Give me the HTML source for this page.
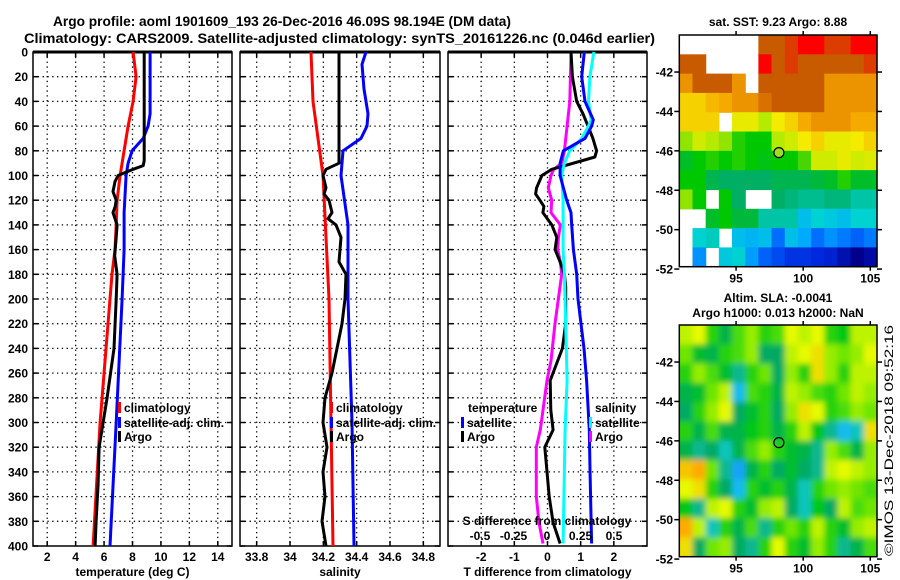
<!DOCTYPE html>
<html><head><meta charset="utf-8"><style>
html,body{margin:0;padding:0;background:#fff;}
svg{display:block;font-family:"Liberation Sans",Arial,sans-serif;font-weight:bold;}
</style></head><body>
<svg id="c" width="900" height="580" viewBox="0 0 900 580" xmlns="http://www.w3.org/2000/svg">
<defs>
<filter id="blur" x="-5%" y="-5%" width="110%" height="110%"><feGaussianBlur stdDeviation="3"/></filter>
<clipPath id="slaclip"><rect x="679.3" y="325" width="197.7" height="231.7"/></clipPath>
</defs>
<text x="53" y="26" font-size="14" textLength="458" lengthAdjust="spacingAndGlyphs">Argo profile: aoml 1901609_193 26-Dec-2016 46.09S 98.194E (DM data)</text>
<text x="24" y="43" font-size="14" textLength="631" lengthAdjust="spacingAndGlyphs">Climatology: CARS2009. Satellite-adjusted climatology: synTS_20161226.nc (0.046d earlier)</text>
<text x="778" y="26" font-size="12" text-anchor="middle">sat. SST: 9.23 Argo: 8.88</text>
<text x="778" y="302" font-size="12" text-anchor="middle">Altim. SLA: -0.0041</text>
<text x="778" y="317" font-size="12" text-anchor="middle">Argo h1000: 0.013 h2000: NaN</text>
<text transform="translate(893,556) rotate(-90)" font-size="12" font-weight="normal" textLength="231" lengthAdjust="spacingAndGlyphs">©IMOS 13-Dec-2018 09:52:16</text>
</svg>
<script>
// ---- profile data ----
const depthTicks = [0,20,40,60,80,100,120,140,160,180,200,220,240,260,280,300,320,340,360,380,400];
const tTicks = [2,4,6,8,10,12,14];
const sTicks = [33.8,34,34.2,34.4,34.6,34.8];
const sTickLabels = ["33.8","34","34.2","34.4","34.6","34.8"];
const dTTicks = [-2,-1,0,1,2];
const dSTicks = [-0.5,-0.25,0,0.25,0.5];
const dSTickLabels = ["-0.5","-0.25","0","0.25","0.5"];

const climTDepth = [0,20,40,60,80,100,120,140,160,180,200,300,400];
const climT = [8.04,8.25,8.04,7.69,7.41,7.13,6.92,6.85,6.77,6.56,6.42,5.72,5.23];
const argoTDepth = [0,88,92,95,100,105,113,120,125,130,140,150,165,180,200,240,280,310,320,350,380,400];
const argoT = [8.82,8.82,8.75,8.04,6.99,6.77,6.63,6.85,6.78,6.63,6.92,6.85,6.75,6.92,6.85,6.7,6.21,5.79,5.65,5.58,5.44,5.37];
const satTDepth = [0,50,60,70,80,90,100,130,160,200,300,400];
const satT = [9.24,9.24,9.10,8.75,7.97,7.69,7.55,7.41,7.41,7.27,6.85,6.42];

const climSDepth = [0,40,100,200,300,400];
const climS = [34.126,34.138,34.198,34.234,34.246,34.258];
const argoSDepth = [0,90,95,100,110,115,120,130,135,140,150,160,170,180,200,220,240,260,280,300,320,340,360,380,400];
const argoS = [34.294,34.294,34.216,34.198,34.216,34.204,34.234,34.252,34.228,34.276,34.306,34.300,34.294,34.336,34.330,34.312,34.282,34.252,34.210,34.198,34.222,34.198,34.210,34.192,34.216];
const satSDepth = [0,10,30,50,60,70,80,100,140,200,300,400];
const satS = [34.456,34.432,34.444,34.468,34.462,34.426,34.318,34.306,34.348,34.348,34.372,34.384];

const diffDepth1 = [0,20,40,50,60,70,80,85,92,95,100,110,115,120,125,130,140,150,160,170,180,190,220,240,266,290,306,320,338,360,381,398];
const argoDT = [0.71,0.75,0.88,1.07,1.22,1.37,1.48,1.43,0.53,0.13,-0.17,-0.33,-0.36,-0.23,-0.11,-0.14,0.13,0.28,0.23,0.38,0.51,0.55,0.55,0.45,0.08,0.1,0.17,-0.08,-0.02,0.05,0.17,0.38];
const diffDepth2 = [0,40,60,80,90,95,100,110,120,130,140,150,160,170,180,220,250,266,290,306,320,338,360,381,398];
const argoDS = [0.18,0.17,0.15,0.13,0.11,0.05,0.03,0.01,0.035,0.03,0.10,0.085,0.08,0.1,0.11,0.06,0.03,0,-0.03,-0.05,-0.08,-0.08,-0.08,-0.06,-0.03];
const satDSDepth = [0,20,40,55,60,70,80,90,100,120,140,160,180,266,306,338,398];
const satDS = [0.35,0.32,0.31,0.33,0.31,0.26,0.17,0.13,0.11,0.12,0.12,0.12,0.13,0.15,0.135,0.13,0.12];
const satDTDepth = [0,20,40,55,60,70,80,90,100,120,130,140,160,180,200,240,266,306,338,398];
const satDT = [1.11,1.03,1.13,1.38,1.33,1.13,0.48,0.38,0.38,0.58,0.71,0.73,0.78,0.88,0.92,1.1,1.18,1.26,1.28,1.33];

// ---- map data (rows top->bottom, cols west->east; null = no data) ----
const mapLons = [90.77,105.5];
const mapLats = [-40.12,-51.88];
const latTicks = [-42,-44,-46,-48,-50,-52];
const lonTicks = [95,100,105];
const argoLon = 98.19, argoLat = -46.09;
const N = null;
const sstGrid = [
[N,N,N,N,N,N,11,11,11.5,12,12,11.5,11.5,12,12],
[11,11,N,N,N,N,12,11,11.5,11,11,11,11,11,11.5],
[10.5,11,11,11,10.5,N,11,11,11,11,11,10.5,10.5,10.5,10.5],
[10,10,10.2,10.3,10.5,10.5,10.8,11,11,11,11,10.5,10.5,10.5,10.5],
[10,10,10,N,9.7,9.7,9.3,9.8,10,10.3,10.5,10.5,10.5,10.3,10.3],
[9.2,9.5,9.3,9.2,8.9,8.8,8.8,9.3,9.5,9.8,10,9.7,9.7,9.8,10],
[8.6,8.8,8.9,8.8,8.9,8.8,8.7,8.8,8.8,9,9.5,9.5,9.7,9.5,9.6],
[8.8,8.8,8.4,8.3,8.3,8.3,8.3,8.4,8.4,8.4,8.5,8.6,8.9,8.6,8.6],
[9.2,8.8,N,8.8,8.3,N,N,8.3,8.2,8.1,8.1,8.2,8.2,8,8],
[N,N,8.6,8.8,8.5,8.5,8,8,8,7.6,7.8,7.7,7.6,7.8,7.8],
[N,7.8,7.9,N,7.6,7.5,7.6,6.9,7.6,7.4,6.9,7.2,7.0,6.8,7.0],
[N,7.2,N,7.7,7.8,7.3,6.8,6.6,6.4,6.4,6.3,6.2,5.9,5.6,5.8]];
const slaGrid = [
[0.04,0.05,0,-0.03,0.01,0.03,0,0.01,0.05,0.04,0.05,0,-0.01,0.04,0.04],
[0.02,-0.02,-0.03,0,0.01,0.03,-0.04,-0.04,0.04,0.05,0.06,0.03,0.02,0.03,0.05],
[0,0.03,0.01,-0.02,-0.05,0,0.02,-0.04,0.03,0,0.06,0.03,0,0.04,0.04],
[-0.03,-0.02,0.02,0.04,-0.08,0.01,0,-0.03,0.04,0.03,0.01,0,0.02,0.04,0.03],
[-0.04,0,0.03,0.05,-0.04,-0.02,0,-0.04,0.03,0.06,0.05,0,0.01,0.03,0.02],
[0,-0.03,0.01,-0.03,-0.03,-0.01,0,-0.03,0,0.04,-0.01,-0.05,-0.08,-0.06,0.06],
[-0.03,-0.05,-0.04,-0.06,-0.03,0.01,0.03,0,-0.02,-0.03,-0.05,0.03,0.01,-0.03,0.03],
[0.07,0.08,0.02,-0.05,-0.09,-0.03,0,-0.04,-0.02,-0.04,-0.05,0.04,0.05,0.04,0.03],
[0.05,0.06,0,-0.04,-0.08,0,-0.02,0,-0.03,-0.06,0,0.02,0.03,0.02,0.01],
[-0.01,-0.05,0.04,0.05,0,-0.02,0.03,0.04,-0.04,-0.06,-0.01,-0.04,0.04,0.01,0.02],
[0.08,0.04,-0.06,0,-0.03,0.01,-0.05,0,0.02,0,0.04,0,-0.02,0.03,0.04],
[0.06,-0.04,0.02,0.03,-0.04,-0.05,0,0.05,0,-0.02,0.03,0,-0.05,-0.03,0.01]];

const NS = "http://www.w3.org/2000/svg";
const svg = document.getElementById('c');
function mk(tag, attrs, parent){ const e=document.createElementNS(NS,tag); for(const k in attrs) e.setAttribute(k,attrs[k]); (parent||svg).appendChild(e); return e; }

const Y0=52, Y1=546;
function yD(d){ return Y0 + d*(Y1-Y0)/400; }

function panel(name, x0, x1, vmin, vmax, gridVals, labelVals, labels, title, showY){
  const g = mk('g',{});
  
  
  const xs = v => x0 + (v-vmin)*(x1-x0)/(vmax-vmin);
  depthTicks.forEach(d=>{
    const y=yD(d);
    if(d>0 && d<400){ const l=mk('line',{x1:x0,x2:x1,y1:y,y2:y,stroke:'#000','stroke-width':1.3,'stroke-dasharray':'1.3 3.5'},g);   }
    mk('line',{x1:x0,x2:x0+5,y1:y,y2:y,stroke:'#000','stroke-width':1.5},g);
    mk('line',{x1:x1-5,x2:x1,y1:y,y2:y,stroke:'#000','stroke-width':1.5},g);
    if(showY){ const t=mk('text',{x:28,y:y+4.5,'font-size':12,'text-anchor':'end'},g); t.textContent=d;   }
  });
  gridVals.forEach(v=>{
    const x=xs(v);
    const l=mk('line',{x1:x,x2:x,y1:Y0,y2:Y1,stroke:'#000','stroke-width':1.3,'stroke-dasharray':'1.3 3.5'},g);
     
    mk('line',{x1:x,x2:x,y1:Y0,y2:Y0+5,stroke:'#000','stroke-width':1.5},g);
    mk('line',{x1:x,x2:x,y1:Y1-5,y2:Y1,stroke:'#000','stroke-width':1.5},g);
  });
  labelVals.forEach((v,i)=>{
    const t=mk('text',{x:xs(v),y:561,'font-size':12,'text-anchor':'middle'},g); t.textContent=labels[i];
     
  });
  const r=mk('rect',{x:x0,y:Y0,width:x1-x0,height:Y1-Y0,fill:'none',stroke:'#000','stroke-width':1.5},g);
   
  mk('line',{x1:x0,x2:x1,y1:Y0,y2:Y0,stroke:'#000','stroke-width':3},g);
  const tt=mk('text',{x:(x0+x1)/2,y:576,'font-size':12,'text-anchor':'middle'},g); tt.textContent=title;
   
  return xs;
}
function series(name, xs, depths, vals, color, w){
  const pts = depths.map((d,i)=> xs(vals[i]).toFixed(1)+','+yD(d).toFixed(1)).join(' ');
  const p = mk('polyline',{points:pts,fill:'none',stroke:color,'stroke-width':w||3,'stroke-linejoin':'round'});
  
  
}
function legend(name, x, y, color, label){
  if(color){ const b=mk('rect',{x:x,y:y-10,width:3,height:11,fill:color});   }
  const t=mk('text',{x:x+6,y:y,'font-size':12}); t.textContent=label;
  
  
}

// Panel 1: temperature
const xT = panel('temperature-panel',33,232,1,15,tTicks,tTicks,tTicks.map(String),'temperature (deg C)',true);
series('temp-climatology-line',xT,climTDepth,climT,'#ff0000');
series('temp-satellite-line',xT,satTDepth,satT,'#0000ff');
series('temp-argo-line',xT,argoTDepth,argoT,'#000000');
legend('legend-climatology',118,412,'#ff0000','climatology');
legend('legend-satellite-adj',118,427,'#0000ff','satellite-adj. clim.');
legend('legend-argo',118,441,'#000000','Argo');

// Panel 2: salinity
const xS = panel('salinity-panel',240,440,33.7,34.9,sTicks,sTicks,sTickLabels,'salinity',false);
series('sal-climatology-line',xS,climSDepth,climS,'#ff0000');
series('sal-satellite-line',xS,satSDepth,satS,'#0000ff');
series('sal-argo-line',xS,argoSDepth,argoS,'#000000');
legend('legend-climatology-s',330,412,'#ff0000','climatology');
legend('legend-satellite-adj-s',330,427,'#0000ff','satellite-adj. clim.');
legend('legend-argo-s',330,441,'#000000','Argo');

// Panel 3: differences
const xDT = panel('difference-panel',448,647,-3,3,dTTicks,dTTicks,dTTicks.map(String),'T difference from climatology',false);
const xDS = v => 547 + v*134;
series('ds-argo-line',xDS,diffDepth2,argoDS,'#ff00ff');
series('dt-argo-line',xDT,diffDepth1,argoDT,'#000000');
series('ds-satellite-line',xDS,satDSDepth,satDS,'#00ffff');
series('dt-satellite-line',xDT,satDTDepth,satDT,'#0000ff');
legend('legend-temperature',462,412,null,'temperature');
legend('legend-dt-satellite',461,427,'#0000ff','satellite');
legend('legend-dt-argo',461,441,'#000000','Argo');
legend('legend-salinity',589,412,null,'salinity');
legend('legend-ds-satellite',589,427,'#00ffff','satellite');
legend('legend-ds-argo',589,441,'#ff00ff','Argo');
{
  const t=mk('text',{x:547,y:525,'font-size':12,'text-anchor':'middle'}); t.textContent='S difference from climatology';
   
  dSTicks.forEach((v,i)=>{ const l=mk('text',{x:xDS(v),y:540,'font-size':12,'text-anchor':'middle'}); l.textContent=dSTickLabels[i];
      });
}

// ---- maps ----
function lerpColor(stops, v){
  if(v<=stops[0][0]) return stops[0][1];
  for(let i=1;i<stops.length;i++){ if(v<=stops[i][0]){ const a=stops[i-1],b=stops[i],t=(v-a[0])/(b[0]-a[0]);
    const c=a[1].map((x,k)=>Math.round(x+(b[1][k]-x)*t)); return c; } }
  return stops[stops.length-1][1];
}
const sstStops=[[5.6,[0,0,140]],[6.3,[0,40,220]],[6.9,[0,110,255]],[7.4,[0,170,255]],[7.8,[0,210,210]],[8.3,[0,175,100]],[8.8,[0,200,0]],[9.3,[180,235,0]],[9.8,[245,235,0]],[10.3,[245,170,0]],[10.7,[225,125,0]],[11,[200,90,0]],[11.5,[220,60,0]],[12,[255,0,0]]];
const slaStops=[[-0.1,[20,140,255]],[-0.07,[20,210,230]],[-0.04,[0,170,100]],[-0.01,[0,200,20]],[0.02,[110,230,0]],[0.05,[230,250,0]],[0.08,[255,170,0]]];
function drawMap(name, top, grid, stops, dotFill, smooth){
  const x0=679.3, x1=877, y0=top, y1=top+231.7;
  const g=mk('g',{});
  
  
  let cellsG = g;
  if(smooth){
    const cg=mk('g',{'clip-path':'url(#slaclip)'},g);
    mk('rect',{x:x0,y:y0,width:x1-x0,height:y1-y0,fill:'rgb(40,200,40)'},cg);
    cellsG=mk('g',{filter:'url(#blur)'},cg);
  }
  const lx = lon => x0 + (lon-mapLons[0])*(x1-x0)/(mapLons[1]-mapLons[0]);
  const ly = lat => y0 + (lat-mapLats[0])*(y1-y0)/(mapLats[1]-mapLats[0]);
  const rows=grid.length, cols=grid[0].length;
  const cw=(x1-x0)/cols, ch=(y1-y0)/rows;
  grid.forEach((row,r)=>row.forEach((v,c)=>{
    if(v===null) return;
    const col=lerpColor(stops,v);
    let cx=x0+c*cw, cy=y0+r*ch, w=cw+0.6, h=ch+0.6;
    if(smooth){ if(c===0){cx-=12;w+=12;} if(c===cols-1){w+=12;} if(r===0){cy-=12;h+=12;} if(r===rows-1){h+=12;} }
    const cell=mk('rect',{x:cx.toFixed(2),y:cy.toFixed(2),width:w.toFixed(2),height:h.toFixed(2),fill:'rgb('+col.join(',')+')'},cellsG);
    
    
  }));
  const fr=mk('rect',{x:x0,y:y0,width:x1-x0,height:y1-y0,fill:'none',stroke:'#000','stroke-width':1.5},g);
   
  latTicks.forEach(lat=>{
    const y=ly(lat);
    mk('line',{x1:x0-5,x2:x0,y1:y,y2:y,stroke:'#000','stroke-width':1.5},g);
    mk('line',{x1:x1,x2:x1+5,y1:y,y2:y,stroke:'#000','stroke-width':1.5},g);
    const t=mk('text',{x:673,y:y+4.5,'font-size':12,'text-anchor':'end'},g); t.textContent=lat;
     
  });
  lonTicks.forEach(lon=>{
    const x=lx(lon);
    mk('line',{x1:x,x2:x,y1:y0-4,y2:y0,stroke:'#000','stroke-width':1.5},g);
    mk('line',{x1:x,x2:x,y1:y1,y2:y1+4,stroke:'#000','stroke-width':1.5},g);
    const t=mk('text',{x:x,y:y1+16,'font-size':12,'text-anchor':'middle'},g); t.textContent=lon;
     
  });
  const c=mk('circle',{cx:lx(argoLon),cy:ly(argoLat),r:5,fill:dotFill,stroke:'#000','stroke-width':1.2},g);
   
}
drawMap('sst-map',35,sstGrid,sstStops,'#9be020',false);
drawMap('sla-map',325,slaGrid,slaStops,'none',true);
</script>
</body></html>
